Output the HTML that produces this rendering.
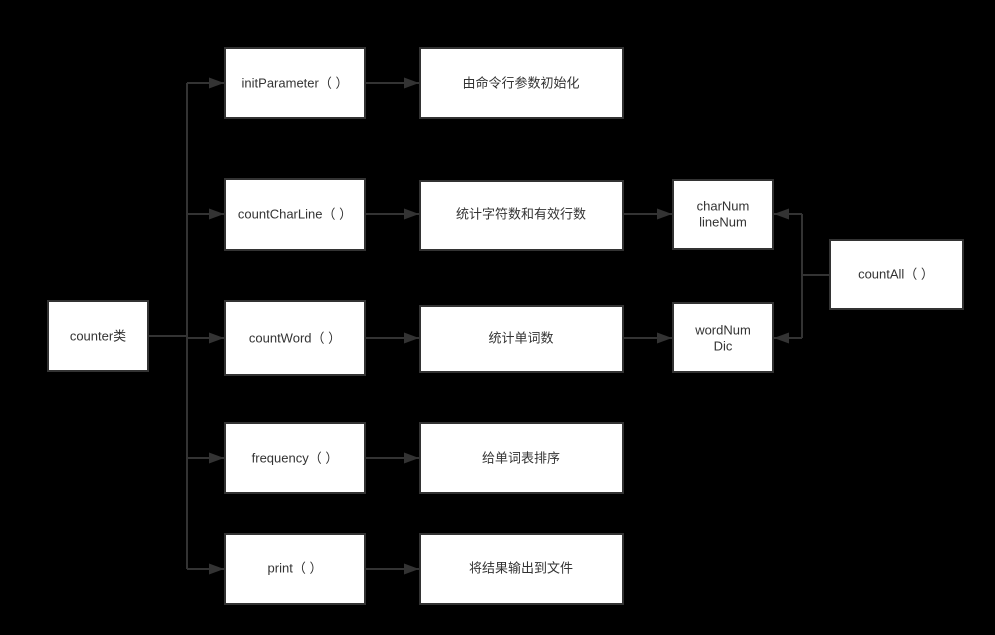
<!DOCTYPE html>
<html><head><meta charset="utf-8"><style>
html,body{margin:0;padding:0;background:#000;}
svg{display:block}
text{font-family:"Liberation Sans","Noto Sans CJK SC",sans-serif;font-size:13px;fill:#333;text-anchor:middle;dominant-baseline:middle}
</style></head><body>
<svg width="995" height="635" viewBox="0 0 995 635">
<rect width="995" height="635" fill="#000"/>
<defs><marker id="a" markerWidth="15" markerHeight="11" refX="15" refY="5.5" orient="auto" markerUnits="userSpaceOnUse"><path d="M0,0 L15,5.5 L0,11 z" fill="#333"/></marker></defs>
<g stroke="#333" stroke-width="2" fill="none">
<path d="M148,336 H187"/>
<path d="M187,83 V569"/>
<path d="M187,83 H224" marker-end="url(#a)"/>
<path d="M187,214 H224" marker-end="url(#a)"/>
<path d="M187,338 H224" marker-end="url(#a)"/>
<path d="M187,458 H224" marker-end="url(#a)"/>
<path d="M187,569 H224" marker-end="url(#a)"/>
<path d="M365,83 H419" marker-end="url(#a)"/>
<path d="M365,214 H419" marker-end="url(#a)"/>
<path d="M365,338 H419" marker-end="url(#a)"/>
<path d="M365,458 H419" marker-end="url(#a)"/>
<path d="M365,569 H419" marker-end="url(#a)"/>
<path d="M623,214 H672" marker-end="url(#a)"/>
<path d="M623,338 H672" marker-end="url(#a)"/>
<path d="M830,275 H802"/>
<path d="M802,214 V338"/>
<path d="M802,214 H774" marker-end="url(#a)"/>
<path d="M802,338 H774" marker-end="url(#a)"/>
</g>
<g fill="#fff" stroke="#333" stroke-width="2">
<rect x="48" y="301" width="100" height="70"/>
<rect x="225" y="48" width="140" height="70"/>
<rect x="225" y="179" width="140" height="71"/>
<rect x="225" y="301" width="140" height="74"/>
<rect x="225" y="423" width="140" height="70"/>
<rect x="225" y="534" width="140" height="70"/>
<rect x="420" y="48" width="203" height="70"/>
<rect x="420" y="181" width="203" height="69"/>
<rect x="420" y="306" width="203" height="66"/>
<rect x="420" y="423" width="203" height="70"/>
<rect x="420" y="534" width="203" height="70"/>
<rect x="673" y="180" width="100" height="69"/>
<rect x="673" y="303" width="100" height="69"/>
<rect x="830" y="240" width="133" height="69"/>
</g>
<text x="98" y="337">counter类</text>
<text x="295" y="84">initParameter（  ）</text>
<text x="295" y="215">countCharLine（  ）</text>
<text x="295" y="339">countWord（  ）</text>
<text x="295" y="459">frequency（  ）</text>
<text x="295" y="569">print（  ）</text>
<text x="521" y="84">由命令行参数初始化</text>
<text x="521" y="215">统计字符数和有效行数</text>
<text x="521" y="339">统计单词数</text>
<text x="521" y="459">给单词表排序</text>
<text x="521" y="569">将结果输出到文件</text>
<text x="723" y="207">charNum</text>
<text x="723" y="223">lineNum</text>
<text x="723" y="331">wordNum</text>
<text x="723" y="347">Dic</text>
<text x="896" y="275">countAll（  ）</text>
</svg>
</body></html>
